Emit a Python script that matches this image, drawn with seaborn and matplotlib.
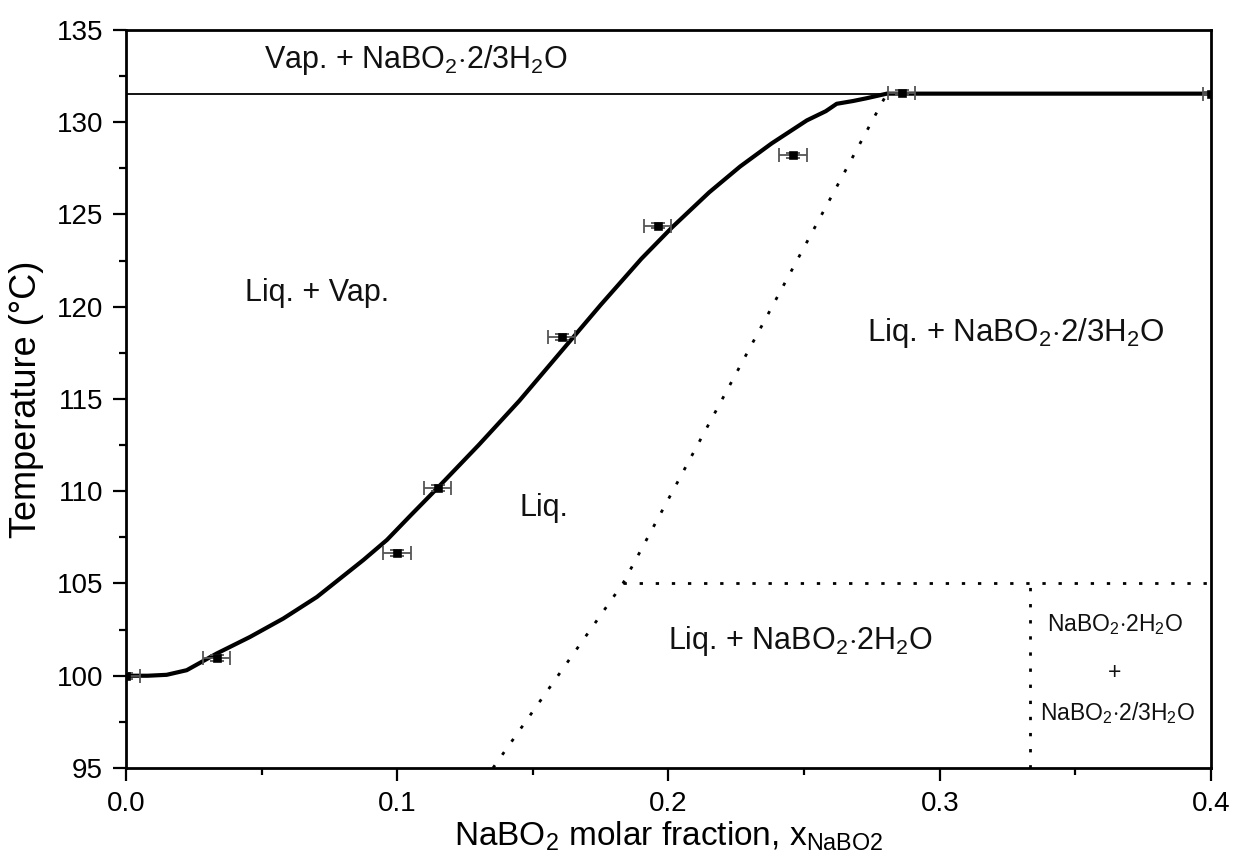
import numpy as np
import pandas as pd
import matplotlib
matplotlib.use("Agg")
import matplotlib.pyplot as plt
import seaborn as sns
from matplotlib.ticker import MultipleLocator, FuncFormatter

# ---- data ----
# experimental points
exp_x = [0.0, 0.0334, 0.0999, 0.115, 0.1607, 0.196, 0.2459, 0.286, 0.4]
exp_t = [100.0, 100.96, 106.65, 110.18, 118.36, 124.4, 128.2, 131.6, 131.55]
exp_xerr = [0.005, 0.005, 0.005, 0.005, 0.005, 0.005, 0.005, 0.005, 0.003]
exp_terr = [0.15, 0.15, 0.15, 0.15, 0.15, 0.15, 0.15, 0.15, 0.1]

# liquidus (model) curve
liq_x = [0.0, 0.008, 0.015, 0.0224, 0.0334, 0.0457, 0.058, 0.0704, 0.0875,
         0.0962, 0.105, 0.115, 0.13, 0.145, 0.16, 0.175, 0.19, 0.2013, 0.215,
         0.2264, 0.238, 0.251, 0.258, 0.262, 0.268, 0.273, 0.2805, 0.4]
liq_t = [100.0, 100.0, 100.05, 100.3, 101.2, 102.1, 103.1, 104.27, 106.27,
         107.36, 108.7, 110.2, 112.5, 114.9, 117.5, 120.1, 122.6, 124.3, 126.2,
         127.6, 128.85, 130.1, 130.6, 131.0, 131.15, 131.3, 131.55, 131.55]

# vapour / NaBO2.2/3H2O boundary
vap_x = [0.0, 0.2805]
vap_t = [131.55, 131.55]

# dotted solubility boundaries
dih_x = [0.1353, 0.1832, 0.2805]
dih_t = [95.0, 105.0, 131.55]
per_x = [0.1832, 0.4]
per_t = [105.0, 105.0]
eut_x = [1 / 3, 1 / 3]
eut_t = [95.0, 105.0]

# region labels
lab_text = [r"Vap. + NaBO$_2$$\cdot$2/3H$_2$O",
            "Liq. + Vap.",
            r"Liq. + NaBO$_2$$\cdot$2/3H$_2$O",
            "Liq.",
            r"Liq. + NaBO$_2$$\cdot$2H$_2$O",
            r"NaBO$_2$$\cdot$2H$_2$O",
            "+",
            r"NaBO$_2$$\cdot$2/3H$_2$O"]
lab_x = [0.107, 0.0705, 0.328, 0.154, 0.2485, 0.3646, 0.3646, 0.3655]
lab_t = [133.4, 120.75, 118.6, 109.1, 101.9, 102.75, 100.15, 98.0]
lab_size = [22, 22, 22.5, 22, 22, 16.5, 16.5, 16.5]

# ---- style ----
sns.set_style("ticks")
plt.rcParams["font.family"] = ["Liberation Sans", "DejaVu Sans"]
plt.rcParams["mathtext.fontset"] = "custom"
plt.rcParams["mathtext.rm"] = "Liberation Sans"
plt.rcParams["mathtext.it"] = "Liberation Sans"
plt.rcParams["mathtext.bf"] = "Liberation Sans:bold"

fig = plt.figure(figsize=(12.36, 8.67), dpi=100)
ax = fig.add_axes([0.1019, 0.1142, 0.8779, 0.8512])

# curves
sns.lineplot(x=liq_x, y=liq_t, ax=ax, color="black", linewidth=3.0,
             sort=False, estimator=None)
sns.lineplot(x=vap_x, y=vap_t, ax=ax, color="black", linewidth=1.3,
             sort=False, estimator=None)
for xs, ts in [(dih_x, dih_t), (per_x, per_t), (eut_x, eut_t)]:
    ax.plot(xs, ts, color="black", linewidth=2.0, linestyle=(0, (1.2, 4.6)))

# experimental points
df = pd.DataFrame({"x": exp_x, "T": exp_t})
ax.errorbar(exp_x, exp_t, xerr=exp_xerr, yerr=exp_terr, fmt="none",
            ecolor="#555555", elinewidth=1.3, capsize=4.7, capthick=1.3,
            zorder=4, clip_on=True)
sns.scatterplot(data=df, x="x", y="T", ax=ax, marker="s", s=30,
                color="black", edgecolor="black", zorder=5)

for t, x, y, s in zip(lab_text, lab_x, lab_t, lab_size):
    ax.text(x, y, t, fontsize=s, ha="center", va="center", color="#111111")

ax.set_xlim(0, 0.4)
ax.set_ylim(95, 135)
ax.xaxis.set_major_locator(MultipleLocator(0.1))
ax.xaxis.set_minor_locator(MultipleLocator(0.05))
ax.yaxis.set_major_locator(MultipleLocator(5))
ax.yaxis.set_minor_locator(MultipleLocator(2.5))
ax.xaxis.set_major_formatter(FuncFormatter(lambda v, p: f"{v:.1f}"))
ax.tick_params(axis="both", which="major", direction="out", length=9.5,
               width=1.6, labelsize=20, pad=7, colors="black")
ax.tick_params(axis="both", which="minor", direction="out", length=5,
               width=1.6, colors="black")
for sp in ax.spines.values():
    sp.set_linewidth(2)
    sp.set_visible(True)
    sp.set_color("black")

ax.set_xlabel(r"NaBO$_2$ molar fraction, x$_{\mathrm{NaBO2}}$", fontsize=24,
              labelpad=2, color="black")
ax.set_ylabel("Temperature (°C)", fontsize=26, labelpad=9, color="black")

fig.savefig("out.png", dpi=100)
